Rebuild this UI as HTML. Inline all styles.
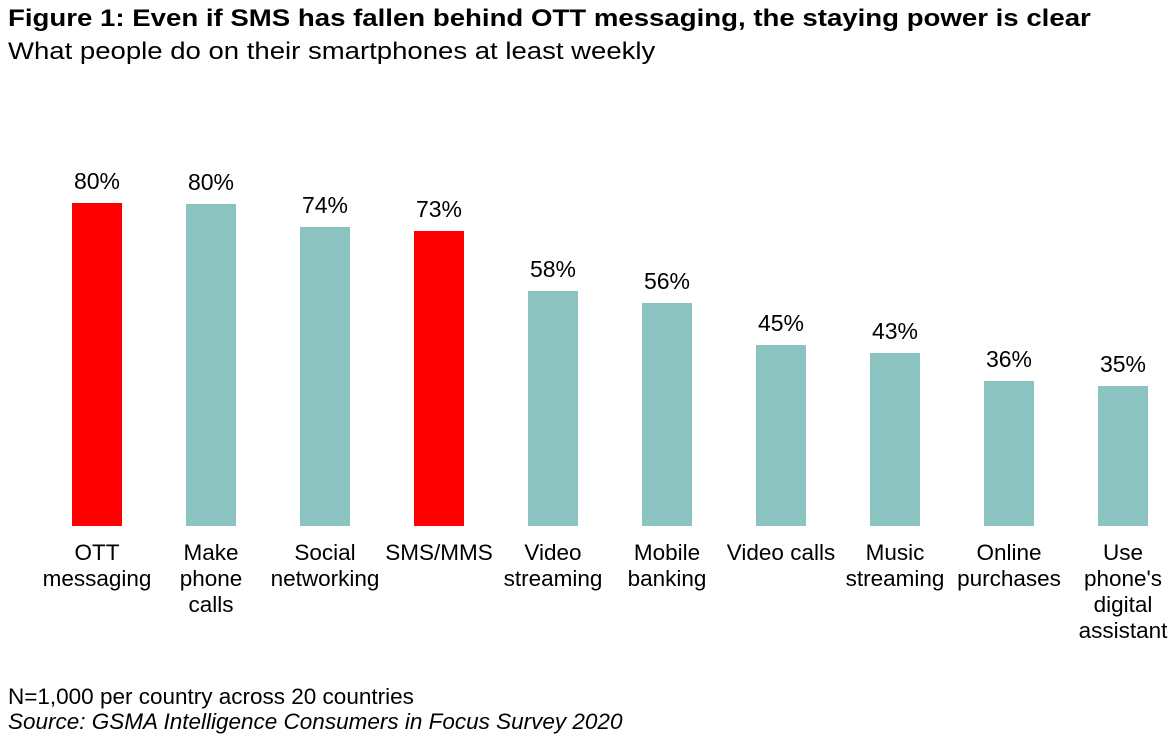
<!DOCTYPE html>
<html><head><meta charset="utf-8"><style>
body{margin:0;width:1172px;height:735px;background:#fff;font-family:"Liberation Sans",Arial,sans-serif;color:#000;position:relative;overflow:hidden}
.t{position:absolute;white-space:nowrap;transform-origin:0 0}
.bar{position:absolute;width:50px;bottom:209px}
.v{position:absolute;font-size:23px;width:100px;text-align:center}
.l{position:absolute;font-size:22.5px;width:140px;text-align:center;line-height:26px;top:540px}
</style></head><body>
<div class="t" style="left:8px;top:5px;font-size:24px;font-weight:bold;transform:scaleX(1.15)">Figure 1: Even if SMS has fallen behind OTT messaging, the staying power is clear</div>
<div class="t" style="left:8px;top:38px;font-size:24px;transform:scaleX(1.147)">What people do on their smartphones at least weekly</div>

<div class="bar" style="left:72px;top:203px;background:#ff0000"></div>
<div class="bar" style="left:186px;top:204px;background:#8bc3c1"></div>
<div class="bar" style="left:300px;top:227px;background:#8bc3c1"></div>
<div class="bar" style="left:414px;top:231px;background:#ff0000"></div>
<div class="bar" style="left:528px;top:291px;background:#8bc3c1"></div>
<div class="bar" style="left:642px;top:303px;background:#8bc3c1"></div>
<div class="bar" style="left:756px;top:345px;background:#8bc3c1"></div>
<div class="bar" style="left:870px;top:353px;background:#8bc3c1"></div>
<div class="bar" style="left:984px;top:381px;background:#8bc3c1"></div>
<div class="bar" style="left:1098px;top:386px;background:#8bc3c1"></div>

<div class="v" style="left:47px;top:168px">80%</div>
<div class="v" style="left:161px;top:169px">80%</div>
<div class="v" style="left:275px;top:192px">74%</div>
<div class="v" style="left:389px;top:196px">73%</div>
<div class="v" style="left:503px;top:256px">58%</div>
<div class="v" style="left:617px;top:268px">56%</div>
<div class="v" style="left:731px;top:310px">45%</div>
<div class="v" style="left:845px;top:318px">43%</div>
<div class="v" style="left:959px;top:346px">36%</div>
<div class="v" style="left:1073px;top:351px">35%</div>

<div class="l" style="left:27px">OTT<br>messaging</div>
<div class="l" style="left:141px">Make<br>phone<br>calls</div>
<div class="l" style="left:255px">Social<br>networking</div>
<div class="l" style="left:369px">SMS/MMS</div>
<div class="l" style="left:483px">Video<br>streaming</div>
<div class="l" style="left:597px">Mobile<br>banking</div>
<div class="l" style="left:711px">Video calls</div>
<div class="l" style="left:825px">Music<br>streaming</div>
<div class="l" style="left:939px">Online<br>purchases</div>
<div class="l" style="left:1053px">Use<br>phone's<br>digital<br>assistant</div>

<div class="t" style="left:8px;top:684px;font-size:22.5px">N=1,000 per country across 20 countries</div>
<div class="t" style="left:8px;top:709px;font-size:22.5px;font-style:italic">Source: GSMA Intelligence Consumers in Focus Survey 2020</div>
</body></html>
